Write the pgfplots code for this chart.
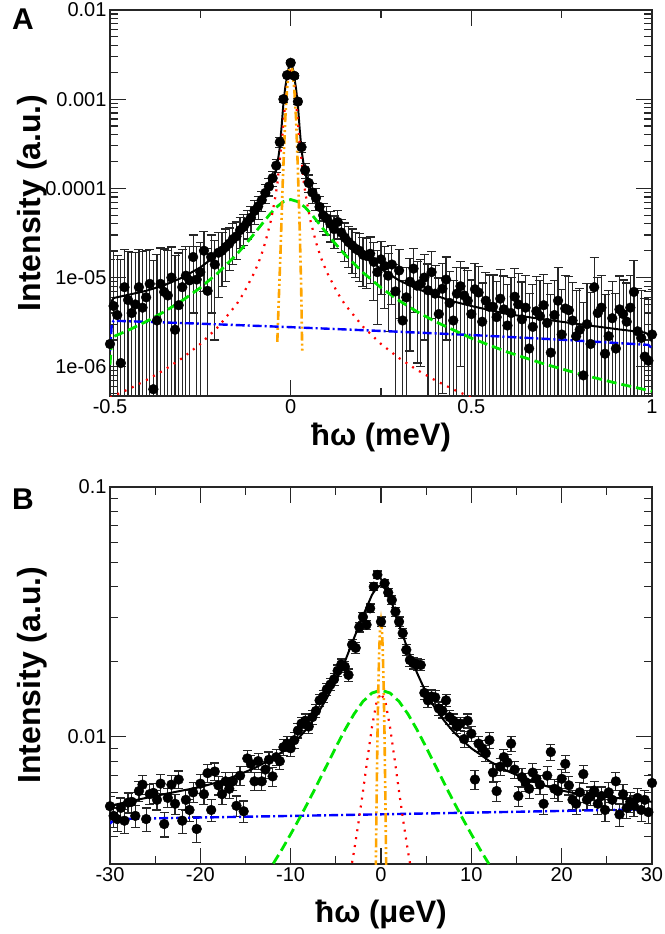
\documentclass[border=0pt]{standalone}
\usepackage{fontspec}
\setmainfont{Liberation Sans}
\usepackage{pgfplots}
\usepackage{pgfplotstable}
\pgfplotsset{compat=1.18}
\definecolor{cgreen}{RGB}{0,230,0}
\definecolor{corange}{RGB}{255,165,0}

\pgfplotstableread{
x y e
-0.50 1.8e-6 1.4e-5
-0.49 4.8e-6 1.5e-5
-0.48 3.8e-6 1.4e-5
-0.47 1.1e-6 1.5e-5
-0.46 7.8e-6 1.3e-5
-0.45 5.6e-6 1.4e-5
-0.44 4.0e-6 1.5e-5
-0.43 5.0e-6 1.4e-5
-0.42 7.8e-6 1.3e-5
-0.41 4.6e-6 1.5e-5
-0.40 6.0e-6 1.4e-5
-0.39 8.5e-6 1.2e-5
-0.38 5.6e-7 1.5e-5
-0.37 3.3e-6 1.5e-5
-0.36 8.5e-6 1.3e-5
-0.35 6.9e-6 1.4e-5
-0.34 6.3e-6 1.4e-5
-0.33 1.0e-5 1.2e-5
-0.32 2.6e-6 1.5e-5
-0.31 4.9e-6 1.4e-5
-0.30 7.8e-6 1.3e-5
-0.29 1.05e-5 1.2e-5
-0.28 9.3e-6 1.3e-5
-0.27 1.7e-5 1.3e-5
-0.26 9.5e-6 1.3e-5
-0.25 1.15e-5 1.3e-5
-0.24 2.0e-5 1.3e-5
-0.23 7.1e-6 1.4e-5
-0.22 1.7e-5 1.3e-5
-0.21 1.4e-5 1.2e-5
-0.20 1.9e-5 1.3e-5
-0.19 2.0e-5 1.2e-5
-0.18 2.2e-5 1.3e-5
-0.17 2.4e-5 1.2e-5
-0.16 2.7e-5 1.3e-5
-0.15 2.9e-5 1.3e-5
-0.14 3.4e-5 1.3e-5
-0.13 3.7e-5 1.4e-5
-0.12 4.2e-5 1.5e-5
-0.11 4.7e-5 1.5e-5
-0.10 5.6e-5 1.7e-5
-0.09 6.3e-5 1.8e-5
-0.08 7.4e-5 1.9e-5
-0.07 8.9e-5 2.1e-5
-0.06 1.05e-4 2.3e-5
-0.05 1.3e-4 2.6e-5
-0.04 1.8e-4 3.0e-5
-0.03 3.3e-4 4.2e-5
-0.02 1.0e-3 7.5e-5
-0.01 1.86e-3 1.0e-4
0.00 2.56e-3 1.2e-4
0.01 1.83e-3 1.0e-4
0.02 9.4e-4 7.3e-5
0.03 2.9e-4 4.0e-5
0.04 1.6e-4 3.0e-5
0.05 1.15e-4 2.6e-5
0.06 9.0e-5 2.3e-5
0.07 7.8e-5 2.1e-5
0.08 6.2e-5 1.9e-5
0.09 5.0e-5 1.7e-5
0.10 4.6e-5 1.6e-5
0.11 4.0e-5 1.5e-5
0.12 3.5e-5 1.4e-5
0.13 4.2e-5 1.5e-5
0.14 3.2e-5 1.3e-5
0.15 2.8e-5 1.3e-5
0.16 2.5e-5 1.2e-5
0.17 2.3e-5 1.2e-5
0.18 2.1e-5 1.1e-5
0.19 2.0e-5 1.1e-5
0.20 1.8e-5 1.0e-5
0.21 1.75e-5 1.0e-5
0.22 1.85e-5 1.0e-5
0.23 1.5e-5 9.5e-6
0.24 1.15e-5 8.5e-6
0.25 1.6e-5 9.5e-6
0.26 1.35e-5 9e-6
0.27 1.05e-5 8e-6
0.28 1.4e-5 9e-6
0.29 7.0e-6 7e-6
0.30 1.2e-5 8.5e-6
0.31 3.3e-6 6e-6
0.32 6.0e-6 7e-6
0.33 9.0e-6 7.5e-6
0.34 1.26e-5 8.5e-6
0.35 8.1e-6 7e-6
0.36 8.5e-6 7.5e-6
0.37 1.0e-5 8e-6
0.38 7.2e-6 7e-6
0.39 1.15e-5 8e-6
0.40 6.6e-6 7e-6
0.41 3.9e-6 6e-6
0.42 7.5e-6 7e-6
0.43 9.5e-6 7.5e-6
0.44 5.2e-6 6.5e-6
0.45 3.3e-6 6e-6
0.46 6.6e-6 6.5e-6
0.47 8.0e-6 7e-6
0.48 6.3e-6 6.5e-6
0.49 5.5e-6 6.5e-6
0.50 3.9e-6 5.5e-6
0.51 7.4e-6 7e-6
0.52 6.8e-6 6.5e-6
0.53 3.2e-6 5.5e-6
0.54 5.5e-6 6e-6
0.55 4.7e-6 6e-6
0.56 4.7e-6 6e-6
0.57 3.6e-6 5.5e-6
0.58 5.8e-6 6.5e-6
0.59 4.4e-6 6e-6
0.60 2.9e-6 5.5e-6
0.61 4.0e-6 6e-6
0.62 6.1e-6 6.5e-6
0.63 5.0e-6 6e-6
0.64 3.4e-6 5.5e-6
0.65 4.6e-6 6e-6
0.66 1.6e-6 5e-6
0.67 2.8e-6 5.5e-6
0.68 4.2e-6 6e-6
0.69 3.7e-6 5.5e-6
0.70 4.9e-6 6e-6
0.71 3.1e-6 5.5e-6
0.72 1.44e-6 5e-6
0.73 3.8e-6 5.5e-6
0.74 5.5e-6 7.5e-6
0.75 2.3e-6 5e-6
0.76 4.5e-6 6e-6
0.77 4.3e-6 6e-6
0.78 3.3e-6 5.5e-6
0.79 2.2e-6 5e-6
0.80 2.6e-6 5e-6
0.81 8.0e-7 4.5e-6
0.82 3.0e-6 5.5e-6
0.83 1.8e-6 5e-6
0.84 7.8e-6 9e-6
0.85 4.0e-6 6e-6
0.86 4.6e-6 6e-6
0.87 1.4e-6 5e-6
0.88 2.2e-6 5e-6
0.89 3.5e-6 5.5e-6
0.90 1.6e-6 5e-6
0.91 4.4e-6 6e-6
0.92 3.9e-6 5.5e-6
0.93 3.2e-6 5.5e-6
0.94 4.6e-6 6e-6
0.95 6.9e-6 8.5e-6
0.96 2.5e-6 5e-6
0.97 2.1e-6 5e-6
0.98 1.3e-6 4.5e-6
0.99 1.17e-6 4.5e-6
1.00 2.3e-6 5e-6
}\topdata

\pgfplotstableread{
x y e
-30.0 0.00528 0.0005
-29.6 0.00483 0.0005
-29.2 0.00469 0.0005
-28.8 0.00520 0.0005
-28.4 0.00462 0.0005
-28.0 0.00546 0.0005
-27.6 0.00550 0.0005
-27.2 0.00483 0.0005
-26.8 0.00607 0.00055
-26.4 0.00644 0.00055
-26.0 0.00469 0.0005
-25.6 0.00590 0.00055
-25.2 0.00597 0.00055
-24.8 0.00560 0.0005
-24.4 0.00650 0.00055
-24.0 0.00448 0.0005
-23.6 0.00570 0.0005
-23.2 0.00644 0.00055
-22.8 0.00540 0.0005
-22.4 0.00675 0.00055
-22.0 0.00462 0.0005
-21.6 0.00560 0.0005
-21.2 0.00510 0.0005
-20.8 0.00600 0.00055
-20.4 0.00428 0.0005
-20.0 0.00650 0.00055
-19.6 0.00590 0.00055
-19.2 0.00716 0.0006
-18.8 0.00510 0.0005
-18.4 0.00727 0.0006
-18.0 0.00640 0.00055
-17.6 0.00590 0.00055
-17.2 0.00664 0.00055
-16.8 0.00620 0.00055
-16.4 0.00664 0.00055
-16.0 0.00530 0.0005
-15.6 0.00700 0.0006
-15.2 0.00504 0.0005
-14.8 0.00820 0.0006
-14.4 0.00780 0.0006
-14.0 0.00664 0.00055
-13.6 0.00800 0.0006
-13.2 0.00664 0.00055
-12.8 0.00740 0.0006
-12.4 0.00810 0.0006
-12.0 0.00695 0.0006
-11.6 0.00830 0.0006
-11.2 0.00800 0.0006
-10.8 0.00910 0.00065
-10.4 0.00940 0.00065
-10.0 0.00900 0.00065
-9.6 0.00970 0.0007
-9.2 0.01060 0.0007
-8.8 0.01130 0.0007
-8.4 0.01160 0.00075
-8.0 0.01100 0.0007
-7.6 0.01200 0.00075
-7.2 0.01270 0.00075
-6.8 0.01400 0.0008
-6.4 0.01450 0.0008
-6.0 0.01550 0.0009
-5.6 0.01620 0.0009
-5.2 0.01700 0.0009
-4.8 0.01840 0.001
-4.4 0.01950 0.001
-4.0 0.01910 0.001
-3.6 0.01770 0.001
-3.2 0.02340 0.0011
-2.8 0.02270 0.0011
-2.4 0.02750 0.0012
-2.0 0.03020 0.0013
-1.6 0.02810 0.0012
-1.2 0.03270 0.0013
-0.8 0.03990 0.0015
-0.4 0.04450 0.0016
0.0 0.02890 0.0013
0.4 0.04120 0.0015
0.8 0.03780 0.0014
1.2 0.03530 0.0014
1.6 0.03170 0.0013
2.0 0.02890 0.0013
2.4 0.02600 0.0012
2.8 0.02230 0.0011
3.2 0.02030 0.0011
3.6 0.01970 0.001
4.0 0.01950 0.001
4.4 0.01940 0.001
4.8 0.01500 0.0009
5.2 0.01400 0.0009
5.6 0.01450 0.0009
6.0 0.01440 0.0009
6.4 0.01300 0.0008
6.8 0.01270 0.0008
7.2 0.01400 0.0008
7.6 0.01200 0.00075
8.0 0.01160 0.00075
8.4 0.01100 0.0007
8.8 0.01130 0.0007
9.2 0.00980 0.0007
9.6 0.01160 0.00075
10.0 0.01030 0.0007
10.4 0.00675 0.0006
10.8 0.00940 0.00065
11.2 0.00900 0.00065
11.6 0.00860 0.00065
12.0 0.00970 0.0007
12.4 0.00720 0.0006
12.8 0.00607 0.00055
13.2 0.00760 0.0006
13.6 0.00830 0.0006
14.0 0.00790 0.0006
14.4 0.00940 0.00065
14.8 0.00740 0.0006
15.2 0.00580 0.00055
15.6 0.00690 0.0006
16.0 0.00660 0.00055
16.4 0.00620 0.00055
16.8 0.00720 0.0006
17.2 0.00680 0.0006
17.6 0.00644 0.00055
18.0 0.00540 0.0005
18.4 0.00700 0.0006
18.8 0.00870 0.00065
19.2 0.00620 0.00055
19.6 0.00607 0.00055
20.0 0.00680 0.0006
20.4 0.00780 0.0006
20.8 0.00640 0.00055
21.2 0.00560 0.0005
21.6 0.00540 0.0005
22.0 0.00600 0.00055
22.4 0.00710 0.0006
22.8 0.00560 0.0005
23.2 0.00580 0.0005
23.6 0.00610 0.00055
24.0 0.00540 0.0005
24.4 0.00580 0.0005
24.8 0.00510 0.0005
25.2 0.00600 0.00055
25.6 0.00560 0.0005
26.0 0.00664 0.00055
26.4 0.00489 0.0005
26.8 0.00590 0.00055
27.2 0.00520 0.0005
27.6 0.00550 0.0005
28.0 0.00530 0.0005
28.4 0.00570 0.0005
28.8 0.00510 0.0005
29.2 0.00560 0.0005
29.6 0.00500 0.0005
30.0 0.00654 0.00055
}\botdata

\begin{document}
\begin{tikzpicture}
\useasboundingbox (0pt,0pt) rectangle (664pt,934pt);

% ---------------- Panel A ----------------
\begin{axis}[
  scale only axis,
  ymode=log,
  at={(110pt,538pt)}, anchor=south west,
  width=542pt, height=386pt,
  axis line style={line width=1.4pt, black!85},
  every tick/.style={line width=1.2pt, black!85},
  major tick length=16pt,
  minor tick length=8pt,
  tick align=inside,
  /pgf/number format/assume math mode=true,
  tick label style={font=\fontsize{20}{24}\selectfont},
  xmin=-0.5, xmax=1, ymin=4.7e-7, ymax=0.01,
  xtick={-0.5,0,0.5,1}, xticklabels={-0.5,0,0.5,1},
  minor xtick={-0.25,0.25,0.75},
  ytick={1e-6,1e-5,1e-4,1e-3,1e-2},
  yticklabels={1e-06,1e-05,0.0001,0.001,0.01},
  minor ytick={5e-7,6e-7,7e-7,8e-7,9e-7,2e-6,3e-6,4e-6,5e-6,6e-6,7e-6,8e-6,9e-6,2e-5,3e-5,4e-5,5e-5,6e-5,7e-5,8e-5,9e-5,2e-4,3e-4,4e-4,5e-4,6e-4,7e-4,8e-4,9e-4,2e-3,3e-3,4e-3,5e-3,6e-3,7e-3,8e-3,9e-3},
]
\addplot[only marks, mark=*, mark size=4.9pt, black, mark options={fill=black, draw=black},
  error bars/.cd, y dir=both, y explicit, error mark=-,
  error bar style={line width=1.2pt, black!85},
  error mark options={rotate=90, line width=1.2pt, black!85, mark size=4.5pt}]
  table[x=x, y=y, y error plus=e, y error minus expr={min(\thisrow{e},0.995*\thisrow{y})}] {\topdata};

\addplot[black, line width=2pt, no marks] coordinates {
(-0.5,4.3e-6) (-0.495,5.5e-6) (-0.49,5.9e-6) (-0.45,6.4e-6) (-0.4,7.1e-6) (-0.35,8.2e-6)
(-0.3,1.0e-5) (-0.25,1.3e-5) (-0.2,1.85e-5) (-0.15,2.8e-5) (-0.12,3.9e-5) (-0.1,5.0e-5)
(-0.08,6.8e-5) (-0.06,9.6e-5) (-0.05,1.2e-4) (-0.04,1.65e-4) (-0.035,2.1e-4) (-0.03,2.9e-4)
(-0.025,5.0e-4) (-0.02,9.0e-4) (-0.015,1.35e-3) (-0.01,1.8e-3) (-0.005,2.3e-3) (0,2.6e-3)
(0.005,2.3e-3) (0.01,1.78e-3) (0.015,1.3e-3) (0.02,8.6e-4) (0.025,4.6e-4) (0.03,2.7e-4)
(0.035,1.95e-4) (0.04,1.55e-4) (0.05,1.12e-4) (0.06,8.8e-5) (0.08,6.2e-5) (0.1,4.7e-5)
(0.12,3.7e-5) (0.15,2.7e-5) (0.2,1.75e-5) (0.25,1.25e-5) (0.3,9.3e-6) (0.35,7.5e-6)
(0.4,6.3e-6) (0.45,5.4e-6) (0.5,4.8e-6) (0.6,3.9e-6) (0.7,3.4e-6) (0.8,3.0e-6)
(0.9,2.65e-6) (0.98,2.42e-6) (0.99,2.3e-6) (1.0,1.9e-6)
};

\addplot[blue, line width=2.4pt, no marks, dash pattern=on 9pt off 3pt on 2pt off 3pt] coordinates {
(-0.5,1.5e-6) (-0.495,3.0e-6) (-0.49,3.28e-6) (-0.25,3.04e-6) (0,2.78e-6) (0.25,2.52e-6)
(0.5,2.27e-6) (0.75,2.01e-6) (0.99,1.76e-6) (1.0,1.6e-6)
};

\addplot[cgreen, line width=2.8pt, no marks, dash pattern=on 10pt off 5pt] coordinates {
(-0.5,1.05e-6) (-0.495,2.1e-6) (-0.49,2.18e-6) (-0.45,2.56e-6) (-0.4,3.21e-6) (-0.35,4.14e-6)
(-0.3,5.52e-6) (-0.25,7.7e-6) (-0.2,1.14e-5) (-0.15,1.81e-5) (-0.12,2.49e-5) (-0.1,3.13e-5)
(-0.08,3.96e-5) (-0.06,4.99e-5) (-0.04,6.13e-5) (-0.02,7.1e-5) (0,7.5e-5) (0.02,7.1e-5)
(0.04,6.13e-5) (0.06,4.99e-5) (0.08,3.96e-5) (0.1,3.13e-5) (0.12,2.49e-5) (0.15,1.81e-5)
(0.2,1.14e-5) (0.25,7.7e-6) (0.3,5.52e-6) (0.35,4.14e-6) (0.4,3.21e-6) (0.5,2.09e-6)
(0.6,1.46e-6) (0.7,1.08e-6) (0.8,8.29e-7) (0.9,6.56e-7) (1.0,5.32e-7)
};

\addplot[red, line width=2.2pt, no marks, dash pattern=on 2pt off 6pt] coordinates {
(-0.5,4.52e-7) (-0.45,5.57e-7) (-0.4,7.05e-7) (-0.35,9.2e-7) (-0.3,1.25e-6) (-0.25,1.8e-6)
(-0.2,2.82e-6) (-0.15,5.0e-6) (-0.13,6.7e-6) (-0.1,1.15e-5) (-0.083,1.7e-5) (-0.07,2.5e-5)
(-0.055,4.3e-5) (-0.045,7e-5) (-0.037,1.1e-4) (-0.03,2.1e-4) (-0.023,3.8e-4) (-0.02,5.5e-4)
(-0.01,1.5e-3) (0,2.3e-3) (0.01,1.5e-3) (0.02,5.5e-4) (0.023,3.8e-4) (0.03,2.1e-4)
(0.037,1.1e-4) (0.045,7e-5) (0.055,4.3e-5) (0.07,2.5e-5) (0.083,1.7e-5) (0.1,1.15e-5)
(0.13,6.7e-6) (0.15,5.0e-6) (0.2,2.82e-6) (0.25,1.8e-6) (0.3,1.25e-6) (0.35,9.2e-7)
(0.4,7.05e-7) (0.45,5.57e-7) (0.5,4.52e-7) (0.52,4.2e-7)
};

\addplot[corange, line width=2.6pt, no marks, dash pattern=on 9pt off 3pt on 2pt off 3pt on 2pt off 3pt] coordinates {
(-0.037,1.9e-6) (-0.033,5.5e-6) (-0.028,2e-5) (-0.022,1.15e-4) (-0.015,6e-4) (-0.01,1.3e-3)
(-0.005,2.1e-3) (0,2.6e-3) (0.005,2.1e-3) (0.01,1.3e-3) (0.015,6e-4) (0.02,1.6e-4)
(0.025,3.5e-5) (0.029,8e-6) (0.032,1.5e-6)
};
\end{axis}

% ---------------- Panel B ----------------
\begin{axis}[
  scale only axis,
  ymode=log,
  at={(110pt,70pt)}, anchor=south west,
  width=542pt, height=377pt,
  axis line style={line width=1.4pt, black!85},
  every tick/.style={line width=1.2pt, black!85},
  major tick length=16pt,
  minor tick length=8pt,
  tick align=inside,
  /pgf/number format/assume math mode=true,
  tick label style={font=\fontsize{20}{24}\selectfont},
  xmin=-30, xmax=30, ymin=0.0031, ymax=0.1,
  xtick={-30,-20,-10,0,10,20,30}, xticklabels={-30,-20,-10,0,10,20,30},
  minor xtick={-25,-15,-5,5,15,25},
  ytick={0.01,0.1}, yticklabels={0.01,0.1},
  minor ytick={0.004,0.005,0.006,0.007,0.008,0.009,0.02,0.03,0.04,0.05,0.06,0.07,0.08,0.09},
]
\addplot[only marks, mark=*, mark size=4.9pt, black, mark options={fill=black, draw=black},
  error bars/.cd, y dir=both, y explicit, error mark=-,
  error bar style={line width=1.2pt, black!85},
  error mark options={rotate=90, line width=1.2pt, black!85, mark size=4.5pt}]
  table[x=x, y=y, y error=e] {\botdata};

\addplot[black, line width=2pt, no marks] coordinates {
(-30,0.0053) (-28,0.0055) (-26,0.0057) (-24,0.0059) (-22,0.0061) (-20,0.0063) (-18,0.0066)
(-16,0.0070) (-14,0.0075) (-12,0.0082) (-10,0.0092) (-9,0.0100) (-8,0.0110) (-7,0.0124)
(-6,0.0143) (-5,0.0167) (-4,0.0200) (-3,0.0248) (-2,0.0305) (-1,0.0370) (-0.5,0.0395)
(0,0.0405) (0.5,0.0390) (1,0.0360) (1.5,0.0320) (2,0.0282) (2.5,0.0250) (3,0.0222)
(4,0.0180) (5,0.0150) (6,0.0130) (7,0.0116) (8,0.0105) (9,0.0097) (10,0.0090) (11,0.0085)
(12,0.0080) (14,0.0073) (16,0.0068) (18,0.0064) (20,0.0061) (22,0.0059) (24,0.0058)
(26,0.0057) (28,0.0056) (30,0.0055)
};

\addplot[blue, line width=2.4pt, no marks, dash pattern=on 9pt off 3pt on 2pt off 3pt] coordinates {
(-30,0.0045) (-29.5,0.00469) (0,0.0049) (29.5,0.00513) (30,0.0050)
};

\addplot[cgreen, line width=2.8pt, no marks, dash pattern=on 10pt off 5pt] coordinates {
(-12.8,0.00277) (-12,0.00308) (-11,0.00353) (-10,0.00408) (-9,0.00474) (-8,0.00554)
(-7,0.00652) (-6,0.0077) (-5,0.00909) (-4,0.01066) (-3,0.01232) (-2,0.01386) (-1,0.01498)
(0,0.0154) (1,0.01498) (2,0.01386) (3,0.01232) (4,0.01066) (5,0.00909) (6,0.0077)
(7,0.00652) (8,0.00554) (9,0.00474) (10,0.00408) (11,0.00353) (12,0.00308) (12.8,0.00277)
};

\addplot[red, line width=2.2pt, no marks, dash pattern=on 2pt off 6pt] coordinates {
(-3.5,0.00271) (-3,0.00346) (-2.5,0.00452) (-2,0.00604) (-1.5,0.00818) (-1,0.01095)
(-0.5,0.01373) (0,0.015) (0.5,0.01373) (1,0.01095) (1.5,0.00818) (2,0.00604)
(2.5,0.00452) (3,0.00346) (3.5,0.00271)
};

\addplot[corange, line width=2.6pt, no marks, dash pattern=on 9pt off 3pt on 2pt off 3pt on 2pt off 3pt] coordinates {
(-0.6,0.00241) (-0.55,0.00358) (-0.5,0.00516) (-0.4,0.00963) (-0.3,0.0156) (-0.2,0.022)
(-0.1,0.0271) (0,0.029) (0.1,0.0271) (0.2,0.022) (0.3,0.0156) (0.4,0.00963)
(0.5,0.00516) (0.55,0.00358) (0.6,0.00241)
};
\end{axis}

% ---------------- Labels ----------------
\node[font=\bfseries\fontsize{30}{36}\selectfont] at (23pt,915pt) {A};
\node[font=\bfseries\fontsize{30}{36}\selectfont] at (23pt,435pt) {B};
\node[rotate=90, font=\bfseries\fontsize{32}{38}\selectfont] at (32pt,731pt) {Intensity (a.u.)};
\node[rotate=90, font=\bfseries\fontsize{32}{38}\selectfont] at (32pt,259pt) {Intensity (a.u.)};
\node[font=\bfseries\fontsize{31}{36}\selectfont] at (381pt,497pt) {ħω (meV)};
\node[font=\bfseries\fontsize{31}{36}\selectfont] at (381pt,20pt) {ħω (μeV)};
\end{tikzpicture}
\end{document}
